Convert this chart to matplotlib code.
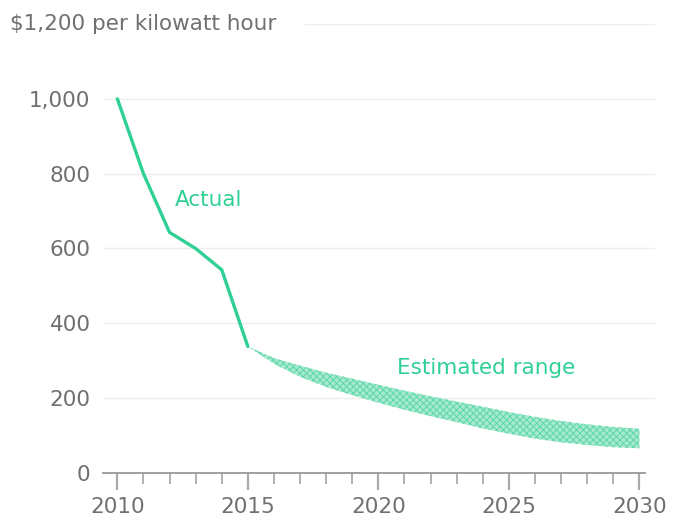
import matplotlib
matplotlib.use("Agg")
import matplotlib.pyplot as plt
import numpy as np

plt.rcParams['font.family'] = ['DejaVu Sans']
plt.rcParams['hatch.linewidth'] = 0.7

actual_years = [2010, 2011, 2012, 2013, 2014, 2015]
actual_values = [1000, 800, 643, 600, 543, 338]

est_years = [2015, 2016, 2017, 2018, 2019, 2020, 2021, 2022, 2023, 2024, 2025, 2026, 2027, 2028, 2029, 2030]
est_upper = [338, 307, 287, 268, 252, 236, 220, 205, 191, 177, 163, 150, 139, 130, 123, 118]
est_lower = [338, 292, 257, 230, 208, 188, 169, 152, 136, 119, 105, 92, 82, 75, 69, 66]

y_ticks = [0, 200, 400, 600, 800, 1000]
y_tick_labels = ['0', '200', '400', '600', '800', '1,000']
x_ticks = [2010, 2015, 2020, 2025, 2030]
x_tick_labels = ['2010', '2015', '2020', '2025', '2030']

green = '#2fd094'
grey = '#707070'
fs = 15.5

fig = plt.figure(figsize=(6.88, 5.25), dpi=100)
ax = fig.add_axes([103/688, 1-473/525, (655-103)/688, (473-24)/525])
ax.set_xlim(2009.45, 2030.6)
ax.set_ylim(0, 1200)

for v in [200, 400, 600, 800, 1000]:
    ax.axhline(v, color='#eeeeee', lw=1, zorder=0)
ax.axhline(1200, xmin=(305-103)/(655-103), xmax=1, color='#eeeeee', lw=1, zorder=0)

ax.fill_between(est_years, est_lower, est_upper, facecolor='#a8e9d0',
                edgecolor='#5ad8a8', hatch='xxxxx', linewidth=0, zorder=2)
ax.plot(actual_years, actual_values, color=green, lw=2.4, solid_capstyle='round',
        solid_joinstyle='round', zorder=3)

for s in ['top', 'right', 'left']:
    ax.spines[s].set_visible(False)
ax.spines['bottom'].set_color('#999999')
ax.spines['bottom'].set_linewidth(1.3)
ax.spines['bottom'].set_bounds(2009.45, 2030.2)

ax.set_xticks(x_ticks)
ax.set_xticklabels(x_tick_labels)
ax.set_xticks(list(range(2010, 2031)), minor=True)
ax.tick_params(axis='x', which='major', direction='out', length=12.5, width=1.6,
               color='#aaaaaa', labelsize=fs, labelcolor=grey, pad=5)
ax.tick_params(axis='x', which='minor', direction='out', length=8, width=1.3, color='#aaaaaa')

ax.set_yticks(y_ticks)
ax.set_yticklabels(y_tick_labels)
ax.tick_params(axis='y', length=0, labelsize=fs, labelcolor=grey, pad=9)

fig.text(10/688, 1-24/525, '$1,200 per kilowatt hour', fontsize=fs, color=grey,
         ha='left', va='center')

ax.text(2012.2, 730, 'Actual', color=green, fontsize=fs, ha='left', va='center')
ax.text(2020.7, 280, 'Estimated range', color=green, fontsize=fs, ha='left', va='center')

fig.savefig('out.png', dpi=100)
